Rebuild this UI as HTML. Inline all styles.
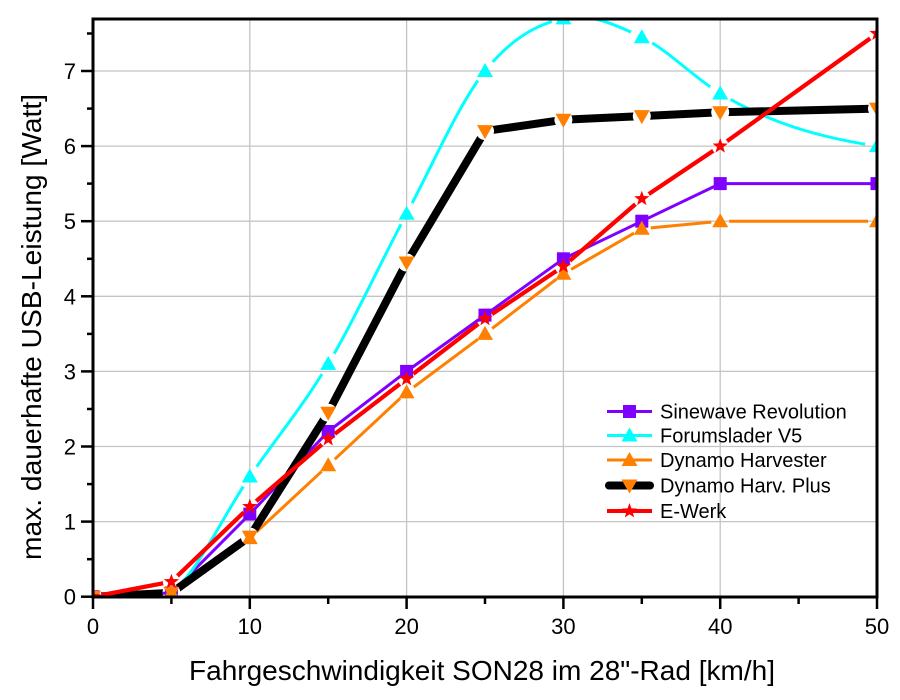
<!DOCTYPE html>
<html>
<head>
<meta charset="utf-8">
<style>
  html, body { margin:0; padding:0; background:#ffffff; }
  svg { display:block; }
  text { font-family: "Liberation Sans", Arial, sans-serif; fill:#000; }
</style>
</head>
<body>
<svg width="900" height="700" viewBox="0 0 900 700" xmlns="http://www.w3.org/2000/svg">
  <defs>
    <clipPath id="plot">
      <rect x="93" y="19" width="784" height="578"/>
    </clipPath>
    <path id="star" d="M0,-8 L1.94,-2.67 L7.61,-2.47 L3.14,1.02 L4.70,6.47 L0,3.3 L-4.70,6.47 L-3.14,1.02 L-7.61,-2.47 L-1.94,-2.67Z"/>
    <path id="triU" d="M0,-8 L8,6 L-8,6Z"/>
    <path id="triD" d="M-8,-6 L8,-6 L0,8Z"/>
    <rect id="sq" x="-6.5" y="-6.5" width="13" height="13"/>

    <mask id="mCyan" maskUnits="userSpaceOnUse" x="0" y="0" width="900" height="700">
      <rect x="0" y="0" width="900" height="700" fill="#fff"/>
      <g fill="#000">
        <circle cx="93" cy="596.7" r="12"/><circle cx="171.4" cy="592.9" r="12"/>
        <circle cx="249.8" cy="476.5" r="12"/><circle cx="328.2" cy="363.9" r="12"/>
        <circle cx="406.6" cy="213.7" r="12"/><circle cx="485" cy="71" r="12"/>
        <circle cx="563.4" cy="18.4" r="12"/><circle cx="641.8" cy="37.2" r="12"/>
        <circle cx="720.2" cy="93.5" r="12"/><circle cx="877" cy="146.1" r="12"/>
      </g>
    </mask>
    <mask id="mOrange" maskUnits="userSpaceOnUse" x="0" y="0" width="900" height="700">
      <rect x="0" y="0" width="900" height="700" fill="#fff"/>
      <g fill="#000">
        <circle cx="93" cy="596.7" r="9"/><circle cx="171.4" cy="592.9" r="9"/>
        <circle cx="249.8" cy="538.1" r="9"/><circle cx="328.2" cy="465.3" r="9"/>
        <circle cx="406.6" cy="392.4" r="9"/><circle cx="485" cy="333.9" r="9"/>
        <circle cx="563.4" cy="273.8" r="9"/><circle cx="641.8" cy="228.7" r="9"/>
        <circle cx="720.2" cy="221.2" r="9"/><circle cx="877" cy="221.2" r="9"/>
      </g>
    </mask>
    <mask id="mBlack" maskUnits="userSpaceOnUse" x="0" y="0" width="900" height="700">
      <rect x="0" y="0" width="900" height="700" fill="#fff"/>
      <g fill="#000">
        <circle cx="93" cy="596.7" r="9"/><circle cx="171.4" cy="592.9" r="9"/>
        <circle cx="249.8" cy="536.6" r="9"/><circle cx="328.2" cy="412.7" r="9"/>
        <circle cx="406.6" cy="262.5" r="9"/><circle cx="485" cy="131.1" r="9"/>
        <circle cx="563.4" cy="119.8" r="9"/><circle cx="641.8" cy="116.1" r="9"/>
        <circle cx="720.2" cy="112.3" r="9"/><circle cx="877" cy="108.6" r="9"/>
      </g>
    </mask>
    <mask id="mRed" maskUnits="userSpaceOnUse" x="0" y="0" width="900" height="700">
      <rect x="0" y="0" width="900" height="700" fill="#fff"/>
      <g fill="#000">
        <circle cx="93" cy="596.7" r="8.5"/><circle cx="171.4" cy="581.7" r="8.5"/>
        <circle cx="249.8" cy="506.6" r="8.5"/><circle cx="328.2" cy="439" r="8.5"/>
        <circle cx="406.6" cy="378.9" r="8.5"/><circle cx="485" cy="318.8" r="8.5"/>
        <circle cx="563.4" cy="266.3" r="8.5"/><circle cx="641.8" cy="198.7" r="8.5"/>
        <circle cx="720.2" cy="146.1" r="8.5"/><circle cx="877" cy="33.5" r="8.5"/>
      </g>
    </mask>
  </defs>

  <!-- gridlines -->
  <g stroke="#c4c4c4" stroke-width="1.3">
    <line x1="249.8" y1="19" x2="249.8" y2="597"/>
    <line x1="406.6" y1="19" x2="406.6" y2="597"/>
    <line x1="563.4" y1="19" x2="563.4" y2="597"/>
    <line x1="720.2" y1="19" x2="720.2" y2="597"/>
    <line x1="93" y1="521.6" x2="877" y2="521.6"/>
    <line x1="93" y1="446.5" x2="877" y2="446.5"/>
    <line x1="93" y1="371.4" x2="877" y2="371.4"/>
    <line x1="93" y1="296.3" x2="877" y2="296.3"/>
    <line x1="93" y1="221.2" x2="877" y2="221.2"/>
    <line x1="93" y1="146.1" x2="877" y2="146.1"/>
    <line x1="93" y1="71" x2="877" y2="71"/>
  </g>

  <g clip-path="url(#plot)">
    <!-- Sinewave Revolution -->
    <polyline fill="none" stroke="#8000ff" stroke-width="3" stroke-linejoin="round"
      points="93,596.7 171.4,592.9 249.8,514.1 328.2,431.5 406.6,371.4 485,315.1 563.4,258.8 641.8,221.2 720.2,183.6 877,183.6"/>
    <g fill="#8000ff">
      <use href="#sq" x="93" y="596.7"/><use href="#sq" x="171.4" y="592.9"/>
      <use href="#sq" x="249.8" y="514.1"/><use href="#sq" x="328.2" y="431.5"/>
      <use href="#sq" x="406.6" y="371.4"/><use href="#sq" x="485" y="315.1"/>
      <use href="#sq" x="563.4" y="258.8"/><use href="#sq" x="641.8" y="221.2"/>
      <use href="#sq" x="720.2" y="183.6"/><use href="#sq" x="877" y="183.6"/>
    </g>

    <!-- Forumslader V5 -->
    <path fill="none" stroke="#00ffff" stroke-width="3" mask="url(#mCyan)"
      d="M93,596.7 L171.4,592.9 C197.53,572.86 223.67,514.65 249.8,476.5 C275.93,438.35 302.07,407.7 328.2,363.9 C354.33,320.1 380.47,262.51 406.6,213.7 C432.73,164.89 458.87,103.56 485,71 C511.13,38.44 537.27,24.04 563.4,18.4 C589.53,12.76 615.67,24.68 641.8,37.2 C667.93,49.72 694.07,77.82 720.2,93.5 C772.47,124.86 824.73,138.26 877,146.1"/>
    <g fill="#00ffff">
      <use href="#triU" x="93" y="596.7"/><use href="#triU" x="171.4" y="592.9"/>
      <use href="#triU" x="249.8" y="476.5"/><use href="#triU" x="328.2" y="363.9"/>
      <use href="#triU" x="406.6" y="213.7"/><use href="#triU" x="485" y="71"/>
      <use href="#triU" x="563.4" y="18.4"/><use href="#triU" x="641.8" y="37.2"/>
      <use href="#triU" x="720.2" y="93.5"/><use href="#triU" x="877" y="146.1"/>
    </g>

    <!-- Dynamo Harvester -->
    <polyline fill="none" stroke="#ff8000" stroke-width="3" mask="url(#mOrange)"
      points="93,596.7 171.4,592.9 249.8,538.1 328.2,465.3 406.6,392.4 485,333.9 563.4,273.8 641.8,228.7 720.2,221.2 877,221.2"/>
    <g fill="#ff8000">
      <use href="#triU" x="93" y="596.7"/><use href="#triU" x="171.4" y="592.9"/>
      <use href="#triU" x="249.8" y="538.1"/><use href="#triU" x="328.2" y="465.3"/>
      <use href="#triU" x="406.6" y="392.4"/><use href="#triU" x="485" y="333.9"/>
      <use href="#triU" x="563.4" y="273.8"/><use href="#triU" x="641.8" y="228.7"/>
      <use href="#triU" x="720.2" y="221.2"/><use href="#triU" x="877" y="221.2"/>
    </g>

    <!-- Dynamo Harv. Plus -->
    <polyline fill="none" stroke="#000" stroke-width="8" stroke-linejoin="round" stroke-linecap="round" mask="url(#mBlack)"
      points="93,596.7 171.4,592.9 249.8,536.6 328.2,412.7 406.6,262.5 485,131.1 563.4,119.8 641.8,116.1 720.2,112.3 877,108.6"/>
    <g fill="#ff8000">
      <use href="#triD" x="93" y="596.7"/><use href="#triD" x="171.4" y="592.9"/>
      <use href="#triD" x="249.8" y="536.6"/><use href="#triD" x="328.2" y="412.7"/>
      <use href="#triD" x="406.6" y="262.5"/><use href="#triD" x="485" y="131.1"/>
      <use href="#triD" x="563.4" y="119.8"/><use href="#triD" x="641.8" y="116.1"/>
      <use href="#triD" x="720.2" y="112.3"/><use href="#triD" x="877" y="108.6"/>
    </g>

    <!-- E-Werk -->
    <polyline fill="none" stroke="#ff0000" stroke-width="4.2" stroke-linejoin="round" mask="url(#mRed)"
      points="93,596.7 171.4,581.7 249.8,506.6 328.2,439 406.6,378.9 485,318.8 563.4,266.3 641.8,198.7 720.2,146.1 877,33.5"/>
    <g fill="#ff0000">
      <use href="#star" x="93" y="596.7"/><use href="#star" x="171.4" y="581.7"/>
      <use href="#star" x="249.8" y="506.6"/><use href="#star" x="328.2" y="439"/>
      <use href="#star" x="406.6" y="378.9"/><use href="#star" x="485" y="318.8"/>
      <use href="#star" x="563.4" y="266.3"/><use href="#star" x="641.8" y="198.7"/>
      <use href="#star" x="720.2" y="146.1"/><use href="#star" x="877" y="33.5"/>
    </g>
  </g>

  <!-- axes frame -->
  <rect x="93" y="19" width="784" height="578" fill="none" stroke="#000" stroke-width="3"/>

  <!-- y ticks -->
  <g stroke="#000" stroke-width="2.5">
    <line x1="81" y1="596.7" x2="93" y2="596.7"/>
    <line x1="81" y1="521.6" x2="93" y2="521.6"/>
    <line x1="81" y1="446.5" x2="93" y2="446.5"/>
    <line x1="81" y1="371.4" x2="93" y2="371.4"/>
    <line x1="81" y1="296.3" x2="93" y2="296.3"/>
    <line x1="81" y1="221.2" x2="93" y2="221.2"/>
    <line x1="81" y1="146.1" x2="93" y2="146.1"/>
    <line x1="81" y1="71" x2="93" y2="71"/>
    <line x1="87" y1="559.2" x2="93" y2="559.2"/>
    <line x1="87" y1="484.1" x2="93" y2="484.1"/>
    <line x1="87" y1="409" x2="93" y2="409"/>
    <line x1="87" y1="333.9" x2="93" y2="333.9"/>
    <line x1="87" y1="258.8" x2="93" y2="258.8"/>
    <line x1="87" y1="183.6" x2="93" y2="183.6"/>
    <line x1="87" y1="108.6" x2="93" y2="108.6"/>
    <line x1="87" y1="33.5" x2="93" y2="33.5"/>
  </g>
  <!-- x ticks -->
  <g stroke="#000" stroke-width="2.5">
    <line x1="93" y1="597" x2="93" y2="609"/>
    <line x1="249.8" y1="597" x2="249.8" y2="609"/>
    <line x1="406.6" y1="597" x2="406.6" y2="609"/>
    <line x1="563.4" y1="597" x2="563.4" y2="609"/>
    <line x1="720.2" y1="597" x2="720.2" y2="609"/>
    <line x1="877" y1="597" x2="877" y2="609"/>
    <line x1="171.4" y1="597" x2="171.4" y2="604"/>
    <line x1="328.2" y1="597" x2="328.2" y2="604"/>
    <line x1="485" y1="597" x2="485" y2="604"/>
    <line x1="641.8" y1="597" x2="641.8" y2="604"/>
    <line x1="798.6" y1="597" x2="798.6" y2="604"/>
  </g>

  <!-- y tick labels -->
  <g font-size="22" text-anchor="end">
    <text x="76" y="604.7">0</text>
    <text x="76" y="529.6">1</text>
    <text x="76" y="454.5">2</text>
    <text x="76" y="379.4">3</text>
    <text x="76" y="304.3">4</text>
    <text x="76" y="229.2">5</text>
    <text x="76" y="154.1">6</text>
    <text x="76" y="79">7</text>
  </g>
  <!-- x tick labels -->
  <g font-size="22" text-anchor="middle">
    <text x="93" y="634">0</text>
    <text x="249.8" y="634">10</text>
    <text x="406.6" y="634">20</text>
    <text x="563.4" y="634">30</text>
    <text x="720.2" y="634">40</text>
    <text x="877" y="634">50</text>
  </g>

  <!-- axis titles -->
  <text x="482" y="680" font-size="28" text-anchor="middle" textLength="586" lengthAdjust="spacingAndGlyphs">Fahrgeschwindigkeit SON28 im 28"-Rad [km/h]</text>
  <text transform="translate(41,327) rotate(-90)" font-size="28" text-anchor="middle" textLength="466" lengthAdjust="spacingAndGlyphs">max. dauerhafte USB-Leistung [Watt]</text>

  <!-- legend -->
  <g>
    <line x1="607" y1="411.5" x2="652" y2="411.5" stroke="#8000ff" stroke-width="3"/>
    <use href="#sq" x="629.5" y="411.5" fill="#8000ff"/>
    <text x="660" y="418.5" font-size="20">Sinewave Revolution</text>

    <line x1="607" y1="435.5" x2="652" y2="435.5" stroke="#00ffff" stroke-width="3"/>
    <use href="#triU" x="629.5" y="435.5" fill="#00ffff"/>
    <text x="660" y="442.5" font-size="20">Forumslader V5</text>

    <line x1="607" y1="460" x2="652" y2="460" stroke="#ff8000" stroke-width="3"/>
    <use href="#triU" x="629.5" y="460" fill="#ff8000"/>
    <text x="660" y="467" font-size="20">Dynamo Harvester</text>

    <line x1="609" y1="485.5" x2="650" y2="485.5" stroke="#000" stroke-width="8" stroke-linecap="round"/>
    <use href="#triD" x="629.5" y="485.5" fill="#ff8000"/>
    <text x="660" y="492.5" font-size="20">Dynamo Harv. Plus</text>

    <line x1="607" y1="511" x2="652" y2="511" stroke="#ff0000" stroke-width="4"/>
    <use href="#star" x="629.5" y="511" fill="#ff0000"/>
    <text x="660" y="518" font-size="20">E-Werk</text>
  </g>
</svg>
</body>
</html>
